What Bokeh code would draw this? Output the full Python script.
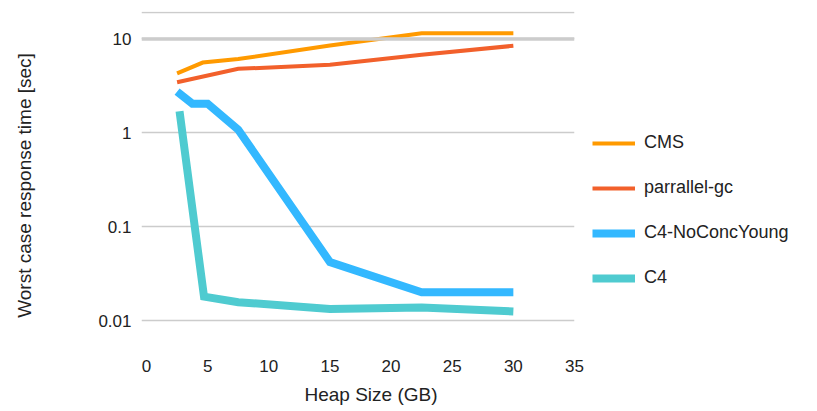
from bokeh.plotting import figure
from bokeh.layouts import row
from bokeh.models import (Range1d, FixedTicker, CustomJSTickFormatter, Span, Title,
                          Legend, LegendItem)
from bokeh.embed import file_html
from bokeh.resources import INLINE

# ---- data ----
cms_x = [2.5, 4.6, 7.5, 15, 22.5, 30]
cms_y = [4.3, 5.6, 6.1, 8.5, 11.5, 11.5]

pgc_x = [2.5, 7.5, 15, 22.5, 30]
pgc_y = [3.45, 4.8, 5.3, 6.8, 8.45]

nocy_x = [2.5, 3.75, 5, 7.5, 15, 22.5, 30]
nocy_y = [2.75, 2.04, 2.04, 1.08, 0.042, 0.02, 0.02]

c4_x = [2.7, 4.7, 7.5, 15, 22.5, 30]
c4_y = [1.7, 0.018, 0.0157, 0.0133, 0.0138, 0.0125]

x_ticks = [0, 5, 10, 15, 20, 25, 30, 35]
y_ticks = [0.01, 0.1, 1, 10, 19.2]

series_names = ["CMS", "parrallel-gc", "C4-NoConcYoung", "C4"]
series_colors = ["#FF9A00", "#F2602B", "#33B8FF", "#4FCBD0"]
series_widths = [4, 4, 8, 8]

FONT = "Liberation Sans"
TXT = "#222222"

p = figure(width=590, height=411, output_backend="svg", toolbar_location=None,
           y_axis_type="log",
           x_range=Range1d(-0.41, 35.0), y_range=Range1d(0.00385, 19.6),
           min_border_left=141, min_border_right=16, min_border_top=11,
           min_border_bottom=51)
p.outline_line_color = None
p.background_fill_color = "white"
p.border_fill_color = "white"

# axes
p.xaxis.ticker = FixedTicker(ticks=x_ticks)
p.yaxis.ticker = FixedTicker(ticks=y_ticks)
p.yaxis.formatter = CustomJSTickFormatter(code="if (tick > 15) { return ''; } return String(tick);")
for ax in (p.xaxis[0], p.yaxis[0]):
    ax.axis_line_color = None
    ax.major_tick_line_color = None
    ax.minor_tick_line_color = None
    ax.major_label_text_font = FONT
    ax.major_label_text_font_size = "17px"
    ax.major_label_text_color = TXT
p.xaxis.major_label_standoff = -6
p.yaxis.major_label_standoff = 4

p.yaxis.axis_label = "Worst case response time [sec]"
p.yaxis.axis_label_standoff = 60
p.yaxis.axis_label_text_font = FONT
p.yaxis.axis_label_text_font_size = "19px"
p.yaxis.axis_label_text_font_style = "normal"
p.yaxis.axis_label_text_color = TXT

p.add_layout(Title(text="Heap Size (GB)", align="left", offset=163, standoff=14,
                   text_font=FONT, text_font_size="19px", text_font_style="normal",
                   text_color=TXT), "below")

p.xgrid.visible = False
p.ygrid.ticker = FixedTicker(ticks=y_ticks)
p.ygrid.grid_line_color = "#cccccc"
p.ygrid.grid_line_width = 1.5
p.add_layout(Span(location=10, dimension="width", line_color="#cccccc", line_width=3.5))

xs = [cms_x, pgc_x, nocy_x, c4_x]
ys = [cms_y, pgc_y, nocy_y, c4_y]
for xx, yy, col, lw in zip(xs, ys, series_colors, series_widths):
    p.line(xx, yy, line_color=col, line_width=lw, line_join="miter")

# legend figure (legend keys mirror the styles of the series above)
lf = figure(width=227, height=411, output_backend="svg", toolbar_location=None,
            x_range=Range1d(0, 1), y_range=Range1d(0, 1),
            min_border=0, min_border_left=0, min_border_right=0,
            min_border_top=0, min_border_bottom=0)
lf.axis.visible = False
lf.grid.visible = False
lf.outline_line_color = None
items = []
for name, col, lw in zip(series_names, series_colors, series_widths):
    r = lf.line([-2, -1], [-2, -2], line_color=col, line_width=lw)
    items.append(LegendItem(label=name, renderers=[r]))
legend = Legend(items=items, location=(2, 71), orientation="vertical",
                glyph_width=43, glyph_height=20, label_height=20, spacing=24,
                label_standoff=9, margin=0, padding=0,
                border_line_color=None, background_fill_alpha=0,
                label_text_font=FONT, label_text_font_size="18px",
                label_text_color=TXT)
lf.add_layout(legend)

layout = row(p, lf)
open("out.html", "w").write(file_html(layout, INLINE))
